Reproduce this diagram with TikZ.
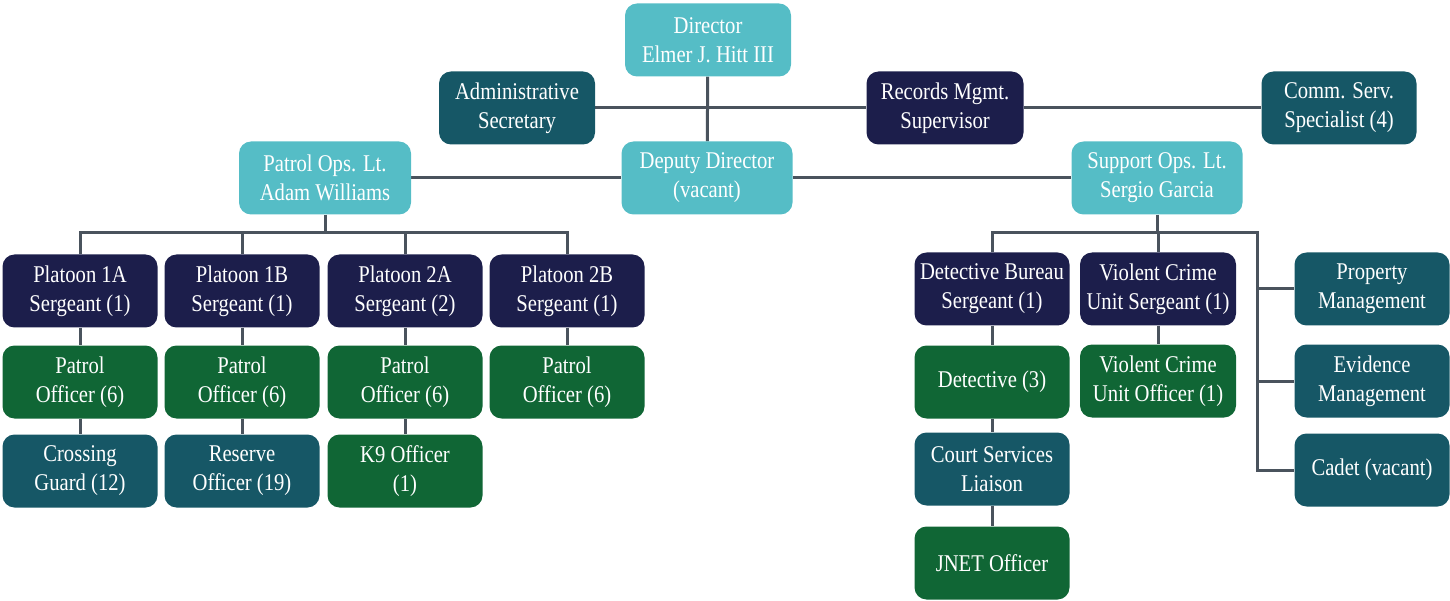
\documentclass[tikz,border=0pt]{standalone}
\usepackage{fontspec}
\setmainfont{Liberation Serif}[FakeStretch=0.86]
\usetikzlibrary{backgrounds}

\definecolor{ltteal}{HTML}{55BDC6}
\definecolor{dkteal}{HTML}{165766}
\definecolor{navy}{HTML}{1C1E4B}
\definecolor{dkgreen}{HTML}{106635}
\definecolor{linegray}{HTML}{4A535D}

\begin{document}
\begin{tikzpicture}[x=1pt,y=-1pt,
    box/.style={rounded corners=12pt, minimum width=155pt, minimum height=73pt, inner sep=2pt,
      align=center, text=white, font=\fontsize{24}{29}\selectfont},
    lt/.style={box, fill=ltteal},
    dk/.style={box, fill=dkteal},
    nv/.style={box, fill=navy},
    gr/.style={box, fill=dkgreen},
    link/.style={draw=linegray, line width=3pt}]
    \useasboundingbox (0,0) rectangle (1450,601);

    % top of the chart
    \node[lt, minimum width=166pt] (dir) at (708,40) {Director\\Elmer J. Hitt III};
    \node[dk, minimum width=156pt] (adm) at (517,108) {Administrative\\Secretary};
    \node[nv, minimum width=157pt] (rec) at (945,108) {Records Mgmt.\\Supervisor};
    \node[dk] (com) at (1339,108) {Comm. Serv.\\Specialist (4)};
    \node[lt, minimum width=171pt] (dep) at (707,178) {Deputy Director\\(vacant)};
    \node[lt, minimum width=172pt] (plt) at (325,178) {Patrol Ops. Lt.\\Adam Williams};
    \node[lt, minimum width=171pt] (slt) at (1157,178) {Support Ops. Lt.\\Sergio Garcia};

    % patrol side
    \node[nv] (p1a) at (80,291) {Platoon 1A\\Sergeant (1)};
    \node[nv] (p1b) at (242,291) {Platoon 1B\\Sergeant (1)};
    \node[nv] (p2a) at (405,291) {Platoon 2A\\Sergeant (2)};
    \node[nv] (p2b) at (567,291) {Platoon 2B\\Sergeant (1)};
    \node[gr] (o1a) at (80,382) {Patrol\\Officer (6)};
    \node[gr] (o1b) at (242,382) {Patrol\\Officer (6)};
    \node[gr] (o2a) at (405,382) {Patrol\\Officer (6)};
    \node[gr] (o2b) at (567,382) {Patrol\\Officer (6)};
    \node[dk] (crg) at (80,471) {Crossing\\Guard (12)};
    \node[dk] (rsv) at (242,471) {Reserve\\Officer (19)};
    \node[gr] (k9) at (405,471) {K9 Officer\\(1)};

    % support side
    \node[nv] (dbs) at (992,289) {Detective Bureau\\Sergeant (1)};
    \node[nv, minimum width=156pt] (vcs) at (1158,289) {Violent Crime\\Unit Sergeant (1)};
    \node[gr] (det) at (992,382) {Detective (3)};
    \node[gr, minimum width=156pt] (vco) at (1158,381) {Violent Crime\\Unit Officer (1)};
    \node[dk] (csl) at (992,469) {Court Services\\Liaison};
    \node[gr] (jnt) at (992,563) {JNET Officer};
    \node[dk] (prp) at (1372,289) {Property\\Management};
    \node[dk] (evd) at (1372,381) {Evidence\\Management};
    \node[dk] (cad) at (1372,470) {Cadet (vacant)};

    \coordinate (lbus) at (325,233);
    \coordinate (rbus) at (1157,233);
    \coordinate (rspine) at (1257,233);

    \begin{scope}[on background layer]
        \draw[link] (dir) -- (dep);
        \draw[link] (adm) -- (rec);
        \draw[link] (rec) -- (com);
        \draw[link] (plt) -- (dep);
        \draw[link] (dep) -- (slt);

        \draw[link] (plt) -- (lbus);
        \draw[link] (p1a) -- (p1a |- lbus) -- (p2b |- lbus) -- (p2b);
        \foreach \n in {p1b,p2a}
            \draw[link] (\n) -- (\n |- lbus);
        \draw[link] (p1a) -- (o1a) -- (crg);
        \draw[link] (p1b) -- (o1b) -- (rsv);
        \draw[link] (p2a) -- (o2a) -- (k9);
        \draw[link] (p2b) -- (o2b);

        \draw[link] (slt) -- (rbus);
        \draw[link] (dbs) -- (dbs |- rbus) -- (rspine) |- (cad);
        \draw[link] (vcs) -- (vcs |- rbus);
        \foreach \n in {prp,evd}
            \draw[link] (rspine |- \n) -- (\n);
        \draw[link] (dbs) -- (det) -- (csl) -- (jnt);
        \draw[link] (vcs) -- (vco);
    \end{scope}
\end{tikzpicture}
\end{document}
